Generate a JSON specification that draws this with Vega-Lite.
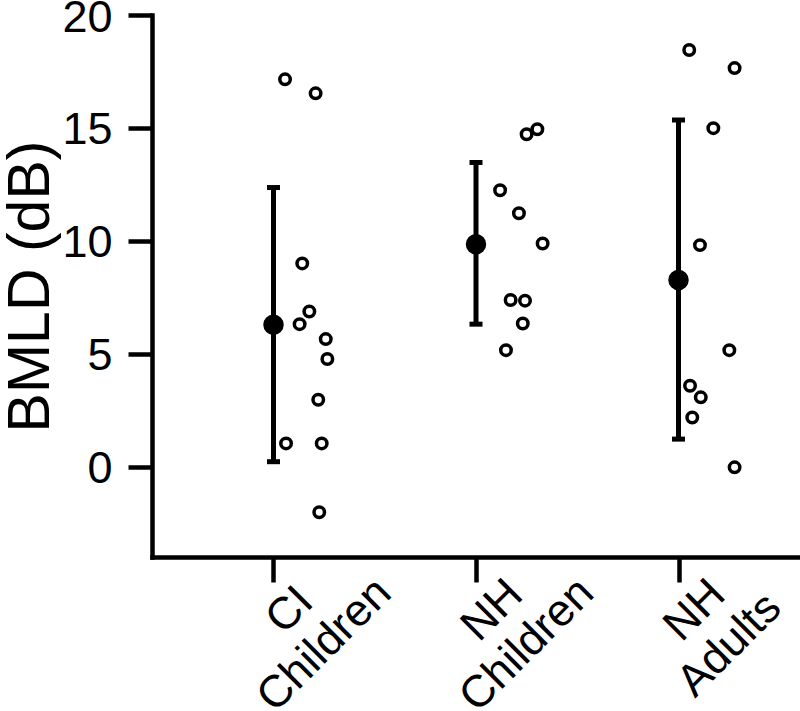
{
  "$schema": "https://vega.github.io/schema/vega-lite/v6.json",
  "width": 648,
  "height": 542,
  "autosize": {"type": "none"},
  "padding": {"left": 152, "top": 15, "right": 0, "bottom": 154},
  "background": "white",
  "config": {
    "view": {"stroke": null},
    "axis": {
      "grid": false,
      "domainColor": "black",
      "domainWidth": 4.5,
      "domainCap": "square",
      "tickColor": "black",
      "tickWidth": 4.5,
      "labelColor": "black",
      "labelFont": "Liberation Sans",
      "labelFontSize": 45,
      "titleFont": "Liberation Sans",
      "titleColor": "black",
      "titleFontWeight": "normal"
    }
  },
  "datasets": {
    "points": [
      {"group": "CI Children", "x": 1.057, "value": 17.15},
      {"group": "CI Children", "x": 1.208, "value": 16.53},
      {"group": "CI Children", "x": 1.142, "value": 9.0},
      {"group": "CI Children", "x": 1.177, "value": 6.87},
      {"group": "CI Children", "x": 1.129, "value": 6.31},
      {"group": "CI Children", "x": 1.258, "value": 5.65},
      {"group": "CI Children", "x": 1.266, "value": 4.77},
      {"group": "CI Children", "x": 1.221, "value": 2.96},
      {"group": "CI Children", "x": 1.062, "value": 1.03},
      {"group": "CI Children", "x": 1.238, "value": 1.03},
      {"group": "CI Children", "x": 1.226, "value": -2.02},
      {"group": "NH Children", "x": 2.250, "value": 14.72},
      {"group": "NH Children", "x": 2.303, "value": 14.94},
      {"group": "NH Children", "x": 2.119, "value": 12.24},
      {"group": "NH Children", "x": 2.212, "value": 11.22},
      {"group": "NH Children", "x": 2.329, "value": 9.88},
      {"group": "NH Children", "x": 2.171, "value": 7.38},
      {"group": "NH Children", "x": 2.242, "value": 7.35},
      {"group": "NH Children", "x": 2.231, "value": 6.34},
      {"group": "NH Children", "x": 2.148, "value": 5.16},
      {"group": "NH Adults", "x": 3.053, "value": 18.45},
      {"group": "NH Adults", "x": 3.277, "value": 17.65},
      {"group": "NH Adults", "x": 3.172, "value": 14.99},
      {"group": "NH Adults", "x": 3.106, "value": 9.81},
      {"group": "NH Adults", "x": 3.251, "value": 5.16},
      {"group": "NH Adults", "x": 3.057, "value": 3.58},
      {"group": "NH Adults", "x": 3.110, "value": 3.07},
      {"group": "NH Adults", "x": 3.068, "value": 2.18},
      {"group": "NH Adults", "x": 3.277, "value": -0.03}
    ],
    "summary": [
      {"group": "CI Children", "x": 1, "mean": 6.28, "lo": 0.22, "hi": 12.36},
      {"group": "NH Children", "x": 2, "mean": 9.85, "lo": 6.31, "hi": 13.47},
      {"group": "NH Adults", "x": 3, "mean": 8.27, "lo": 1.22, "hi": 15.35}
    ]
  },
  "encoding": {
    "x": {
      "field": "x",
      "type": "quantitative",
      "scale": {"domain": [0.4, 3.6], "nice": false, "zero": false},
      "axis": {
        "title": null,
        "values": [1, 2, 3],
        "labelExpr": "datum.value == 1 ? ['CI', 'Children'] : datum.value == 2 ? ['NH', 'Children'] : ['NH', 'Adults']",
        "labelAngle": -45,
        "labelAlign": "center",
        "labelBaseline": "top",
        "labelFontSize": 45,
        "labelPadding": 12,
        "labelLineHeight": 49,
        "labelOverlap": false,
        "labelFlush": false,
        "tickSize": 25
      }
    }
  },
  "layer": [
    {
      "data": {"name": "summary"},
      "mark": {"type": "rule", "color": "black", "strokeWidth": 5},
      "encoding": {
        "y": {
          "field": "lo",
          "type": "quantitative",
          "title": "BMLD (dB)",
          "scale": {"domain": [-4, 20], "nice": false, "zero": false},
          "axis": {
            "values": [0, 5, 10, 15, 20],
            "tickSize": 24,
            "labelPadding": 16,
            "labelOffset": 2,
            "titleFontSize": 59,
            "titleX": -104,
            "titleY": 271,
            "titleBaseline": "alphabetic",
            "titleAngle": -90,
            "titleAlign": "center"
          }
        },
        "y2": {"field": "hi"}
      }
    },
    {
      "data": {"name": "summary"},
      "mark": {"type": "tick", "color": "black", "opacity": 1, "orient": "horizontal", "size": 13, "thickness": 5},
      "encoding": {
        "y": {"field": "lo", "type": "quantitative", "title": "BMLD (dB)"}
      }
    },
    {
      "data": {"name": "summary"},
      "mark": {"type": "tick", "color": "black", "opacity": 1, "orient": "horizontal", "size": 13, "thickness": 5},
      "encoding": {
        "y": {"field": "hi", "type": "quantitative", "title": "BMLD (dB)"}
      }
    },
    {
      "data": {"name": "summary"},
      "mark": {"type": "point", "shape": "circle", "filled": true, "color": "black", "opacity": 1, "size": 420},
      "encoding": {
        "y": {"field": "mean", "type": "quantitative", "title": "BMLD (dB)"}
      }
    },
    {
      "data": {"name": "points"},
      "mark": {"type": "point", "shape": "circle", "filled": false, "color": "black", "opacity": 1, "size": 110, "strokeWidth": 3.5},
      "encoding": {
        "y": {"field": "value", "type": "quantitative", "title": "BMLD (dB)"}
      }
    }
  ]
}
